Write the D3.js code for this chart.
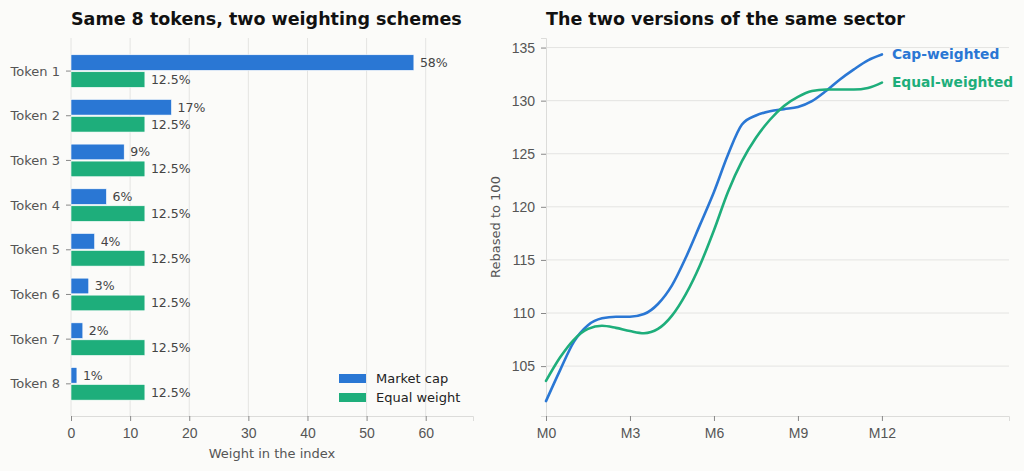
<!DOCTYPE html>
<html>
<head>
<meta charset="utf-8">
<script src="https://cdn.jsdelivr.net/npm/d3@7"></script>
<style>
  body { margin: 0; background: #fbfbf9; }
  svg { display: block; font-family: "DejaVu Sans", sans-serif; }
</style>
</head>
<body>
<div id="chart"></div>
<script>
// data
const tokens = ["Token 1", "Token 2", "Token 3", "Token 4", "Token 5", "Token 6", "Token 7", "Token 8"]
const marketCap = [58, 17, 9, 6, 4, 3, 2, 1]
const equalWeight = [12.5, 12.5, 12.5, 12.5, 12.5, 12.5, 12.5, 12.5]
const barTicks = [0, 10, 20, 30, 40, 50, 60]

// half-month steps, M0 .. M12
const months = [0, 0.5, 1, 1.5, 2, 2.5, 3, 3.5, 4, 4.5, 5, 5.5, 6, 6.5, 7, 7.5, 8, 8.5, 9, 9.5, 10, 10.5, 11, 11.5, 12]
const capWeighted = [101.7, 104.6, 107.3, 108.85, 109.5, 109.65, 109.65, 109.9, 110.85, 112.6, 115.25, 118.3, 121.4, 124.9, 127.75, 128.6, 129.0, 129.2, 129.4, 129.95, 130.9, 132.0, 132.95, 133.8, 134.35]
const equalWeighted = [103.6, 105.8, 107.5, 108.5, 108.8, 108.6, 108.3, 108.1, 108.5, 109.75, 111.8, 114.5, 117.8, 121.4, 124.3, 126.5, 128.2, 129.5, 130.35, 130.9, 131.05, 131.05, 131.05, 131.2, 131.7]
const monthTicks = [0, 3, 6, 9, 12]
const lineTicks = [105, 110, 115, 120, 125, 130, 135]

const BLUE = "#2a77d4", GREEN = "#1eae7b"
const GRID = "#e4e4e2", SPINE = "#dcdcda", TICK = "#888", TXT = "#555"

const svg = d3.select("#chart").append("svg")
    .attr("width", 1024)
    .attr("height", 471)

svg.append("rect").attr("width", 1024).attr("height", 471).attr("fill", "#fbfbf9")

// ---------- left panel: bars ----------
const L = { left: 71, right: 473, top: 38, bottom: 416 }
const xBar = d3.scaleLinear().domain([0, 68]).range([L.left, L.right])
const yBar = d3.scaleLinear().domain([-0.74, 7.72]).range([L.top, L.bottom])
const unit = yBar(1) - yBar(0)
const barH = 0.35 * unit, off = 0.19 * unit

const left = svg.append("g")

// vertical gridlines
left.selectAll(".vgrid").data(barTicks).join("line")
    .attr("x1", d => xBar(d)).attr("x2", d => xBar(d))
    .attr("y1", L.top).attr("y2", L.bottom)
    .attr("stroke", GRID).attr("stroke-width", 1)

// bottom axis
const xAxisL = left.append("g")
    .attr("transform", `translate(0,${L.bottom})`)
    .call(d3.axisBottom(xBar).tickValues(barTicks).tickSize(5).tickPadding(7))
xAxisL.select(".domain").attr("stroke", SPINE)
xAxisL.selectAll(".tick line").attr("stroke", TICK)
xAxisL.selectAll(".tick text").attr("fill", TXT).style("font-size", "14px")

// token ticks + labels
left.selectAll(".ytick").data(tokens).join("line")
    .attr("x1", L.left - 5).attr("x2", L.left)
    .attr("y1", (d, i) => yBar(i)).attr("y2", (d, i) => yBar(i))
    .attr("stroke", TICK)
left.selectAll(".ylab").data(tokens).join("text")
    .attr("x", L.left - 11).attr("y", (d, i) => yBar(i))
    .attr("dy", "0.35em").attr("text-anchor", "end")
    .attr("fill", TXT).style("font-size", "13px")
    .text(d => d)

// bars
left.selectAll(".capbar").data(marketCap).join("rect")
    .attr("x", xBar(0)).attr("y", (d, i) => yBar(i) - off - barH / 2)
    .attr("width", d => xBar(d) - xBar(0)).attr("height", barH)
    .attr("fill", BLUE).attr("stroke", "#fff").attr("stroke-width", 0.6)
left.selectAll(".eqbar").data(equalWeight).join("rect")
    .attr("x", xBar(0)).attr("y", (d, i) => yBar(i) + off - barH / 2)
    .attr("width", d => xBar(d) - xBar(0)).attr("height", barH)
    .attr("fill", GREEN).attr("stroke", "#fff").attr("stroke-width", 0.6)

// value labels
left.selectAll(".caplab").data(marketCap).join("text")
    .attr("x", d => xBar(d) + 6).attr("y", (d, i) => yBar(i) - off)
    .attr("dy", "0.35em").attr("fill", "#444").style("font-size", "12.5px")
    .text(d => d + "%")
left.selectAll(".eqlab").data(equalWeight).join("text")
    .attr("x", d => xBar(d) + 6).attr("y", (d, i) => yBar(i) + off)
    .attr("dy", "0.35em").attr("fill", "#444").style("font-size", "12.5px")
    .text(d => d + "%")

// legend
const legend = left.append("g").attr("transform", "translate(339,374)")
const legendItems = [["Market cap", BLUE], ["Equal weight", GREEN]]
legendItems.forEach(([name, col], i) => {
    legend.append("rect").attr("x", 0).attr("y", i * 19).attr("width", 27).attr("height", 9).attr("fill", col)
    legend.append("text").attr("x", 37).attr("y", i * 19 + 4.5).attr("dy", "0.35em")
        .attr("fill", "#222").style("font-size", "13px").text(name)
})

// titles / labels
left.append("text").attr("x", L.left).attr("y", 25)
    .style("font-size", "17.5px").style("font-weight", "bold").attr("fill", "#111")
    .text("Same 8 tokens, two weighting schemes")
left.append("text").attr("x", (L.left + L.right) / 2).attr("y", 458)
    .attr("text-anchor", "middle").attr("fill", TXT).style("font-size", "13px")
    .text("Weight in the index")

// ---------- right panel: lines ----------
const R = { left: 546, right: 1009, top: 38, bottom: 416 }
const xLine = d3.scaleLinear().domain([0, 16.54]).range([R.left, R.right])
const yLine = d3.scaleLinear().domain([100.3, 135.9]).range([R.bottom, R.top])

const right = svg.append("g")

right.selectAll(".hgrid").data(lineTicks).join("line")
    .attr("x1", R.left).attr("x2", R.right)
    .attr("y1", d => yLine(d)).attr("y2", d => yLine(d))
    .attr("stroke", GRID)

const yAxisR = right.append("g")
    .attr("transform", `translate(${R.left},0)`)
    .call(d3.axisLeft(yLine).tickValues(lineTicks).tickSize(5).tickPadding(6))
yAxisR.select(".domain").attr("stroke", SPINE)
yAxisR.selectAll(".tick line").attr("stroke", TICK)
yAxisR.selectAll(".tick text").attr("fill", TXT).style("font-size", "14px")

const xAxisR = right.append("g")
    .attr("transform", `translate(0,${R.bottom})`)
    .call(d3.axisBottom(xLine).tickValues(monthTicks).tickFormat(d => "M" + d).tickSize(5).tickPadding(7))
xAxisR.select(".domain").attr("stroke", SPINE)
xAxisR.selectAll(".tick line").attr("stroke", TICK)
xAxisR.selectAll(".tick text").attr("fill", TXT).style("font-size", "14px")

const line = d3.line().curve(d3.curveMonotoneX)
const series = [
    { name: "Cap-weighted", values: capWeighted, color: BLUE },
    { name: "Equal-weighted", values: equalWeighted, color: GREEN }
]
series.forEach(s => {
    const pts = months.map((m, i) => [xLine(m), yLine(s.values[i])])
    right.append("path").attr("d", line(pts))
        .attr("fill", "none").attr("stroke", s.color).attr("stroke-width", 2.6)
        .attr("stroke-linecap", "round")
    const last = s.values[s.values.length - 1]
    right.append("text")
        .attr("x", xLine(months[months.length - 1]) + 10).attr("y", yLine(last))
        .attr("dy", "0.35em").attr("fill", s.color)
        .style("font-size", "13.8px").style("font-weight", "bold")
        .text(s.name)
})

right.append("text").attr("x", R.left).attr("y", 25)
    .style("font-size", "17.5px").style("font-weight", "bold").attr("fill", "#111")
    .text("The two versions of the same sector")
right.append("text")
    .attr("transform", `translate(500,${(R.top + R.bottom) / 2}) rotate(-90)`)
    .attr("text-anchor", "middle").attr("fill", TXT).style("font-size", "13px")
    .text("Rebased to 100")
</script>
</body>
</html>
